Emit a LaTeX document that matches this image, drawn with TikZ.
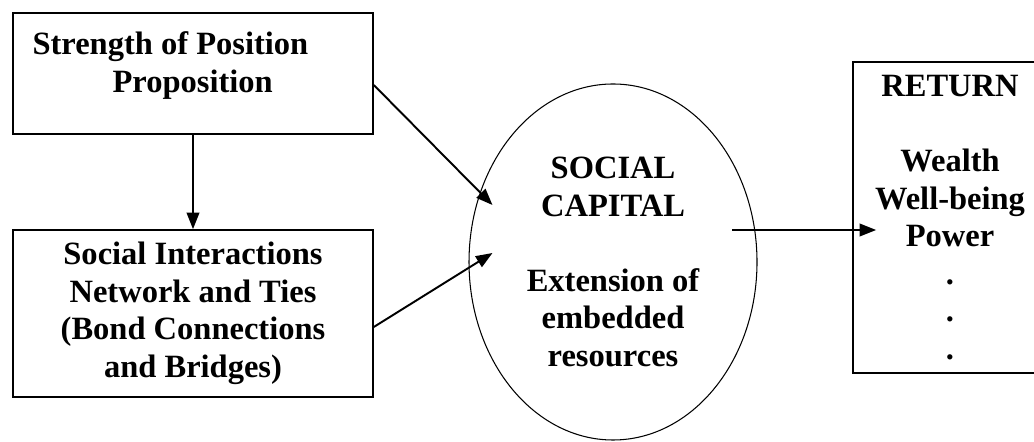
\documentclass[tikz,border=0pt]{standalone}
\usepackage{fontspec}
\setmainfont{Liberation Serif}
\usetikzlibrary{arrows.meta,shapes.geometric}

\begin{document}
\begin{tikzpicture}[
			every node/.style = {font=\bfseries\fontsize{18.5}{21.4}\selectfont},
			box/.style = {draw, line width=0.9pt, inner sep=0pt},
			txt/.style = {inner sep=0pt, align=left},
			link/.style = {line width=1.1pt, -{Triangle[length=0.33cm,width=0.25cm]}}
			]

			\useasboundingbox (0,0) rectangle (20.68,8.84);
			\clip (0,0) rectangle (20.68,8.84);

			\node[box, minimum width=7.2cm, minimum height=2.42cm] (strength) at (3.86,7.37) {};
			\node[txt, anchor=north west] (strengthtxt) at ([xshift=0.40cm,yshift=-0.38cm]strength.north west)
				{Strength of Position\\\hspace*{1.6cm}Proposition};

			\node[box, minimum width=7.2cm, minimum height=3.34cm, align=center] (interactions) at (3.86,2.57)
				{Social Interactions\\Network and Ties\\(Bond Connections\\and Bridges)};

			\node[draw, ellipse, line width=0.6pt, inner sep=0pt, minimum width=5.76cm, minimum height=7.12cm,
				align=center] (capital) at (12.26,3.60)
				{SOCIAL\\CAPITAL\\[0.75cm]Extension of\\embedded\\resources};

			\node[box, minimum width=3.88cm, minimum height=6.22cm, align=center] (return) at (19.0,4.49)
				{RETURN\\[0.75cm]Wealth\\Well-being\\Power\\.\\.\\.};

			\coordinate (capin1) at ([xshift=0.48cm,yshift=1.14cm]capital.west);
			\coordinate (capin2) at ([xshift=0.48cm,yshift=0.18cm]capital.west);
			\coordinate (capout) at ([xshift=2.38cm,yshift=0.64cm]capital.center);
			\coordinate (retin) at ([xshift=0.48cm,yshift=-0.25cm]return.west);

			\draw[link] (strength.south) -- (interactions.north);
			\draw[link] ([yshift=-0.23cm]strength.east) -- (capin1);
			\draw[link] ([yshift=-0.27cm]interactions.east) -- (capin2);
			\draw[link] (capout) -- (retin);

		\end{tikzpicture}
\end{document}
